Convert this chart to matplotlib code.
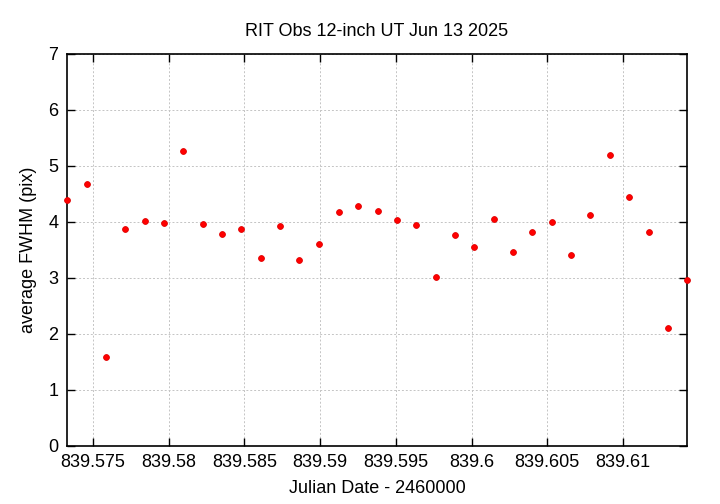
import matplotlib
matplotlib.use("Agg")
import matplotlib.pyplot as plt
from matplotlib.ticker import MultipleLocator

# Julian Date - 2460000 and average FWHM (pix)
jd = [839.57327, 839.57458, 839.57586, 839.57714, 839.57841, 839.57968,
      839.58098, 839.58225, 839.58353, 839.58481, 839.58608, 839.58736,
      839.58863, 839.58995, 839.59122, 839.59250, 839.59380, 839.59508,
      839.59635, 839.59762, 839.59890, 839.60017, 839.60145, 839.60275,
      839.60402, 839.60530, 839.60657, 839.60784, 839.60912, 839.61040,
      839.61169, 839.61297, 839.61424]
fwhm = [4.39, 4.67, 1.59, 3.87, 4.01, 3.99, 5.26, 3.97, 3.78, 3.87, 3.36,
        3.92, 3.32, 3.61, 4.17, 4.28, 4.19, 4.04, 3.95, 3.01, 3.77, 3.56,
        4.05, 3.46, 3.82, 4.00, 3.41, 4.13, 5.19, 4.45, 3.82, 2.11, 2.97]

title = "RIT Obs 12-inch UT Jun 13 2025"
xlabel = "Julian Date - 2460000"
ylabel = "average FWHM (pix)"

plt.rcParams['font.family'] = ['Liberation Sans Narrow', 'Liberation Sans', 'DejaVu Sans']

fig = plt.figure(figsize=(7.2, 5.04), dpi=100)
ax = fig.add_axes([0.0926, 0.1151, 0.862, 0.7778])

ax.plot(jd, fwhm, linestyle='none', marker='o', markersize=4.2,
        markerfacecolor='#ff0000', markeredgecolor='#e00000',
        markeredgewidth=0.6, clip_on=False, zorder=3)

ax.set_ylim(0, 7)
ax.xaxis.set_major_locator(MultipleLocator(0.005))
ax.yaxis.set_major_locator(MultipleLocator(1))
ax.set_xlim(min(jd), max(jd))
ticks = [t for t in ax.get_xticks() if min(jd) <= t <= max(jd)]
ax.set_xticks(ticks)
ax.set_xticklabels(['%g' % round(t, 3) for t in ticks])
ax.set_xlim(min(jd), max(jd))

ax.tick_params(direction='in', length=6, width=1, top=True, right=True,
               labelsize=13, pad=6, colors='black')
ax.grid(True, color='#c4c4c4', linestyle=(0, (2, 2)), linewidth=0.7)
for s in ax.spines.values():
    s.set_linewidth(1.2)

ax.set_title(title, fontsize=13, pad=13)
ax.set_xlabel(xlabel, fontsize=13, labelpad=6)
ax.set_ylabel(ylabel, fontsize=13, labelpad=8)

fig.savefig("out.png", dpi=100)
